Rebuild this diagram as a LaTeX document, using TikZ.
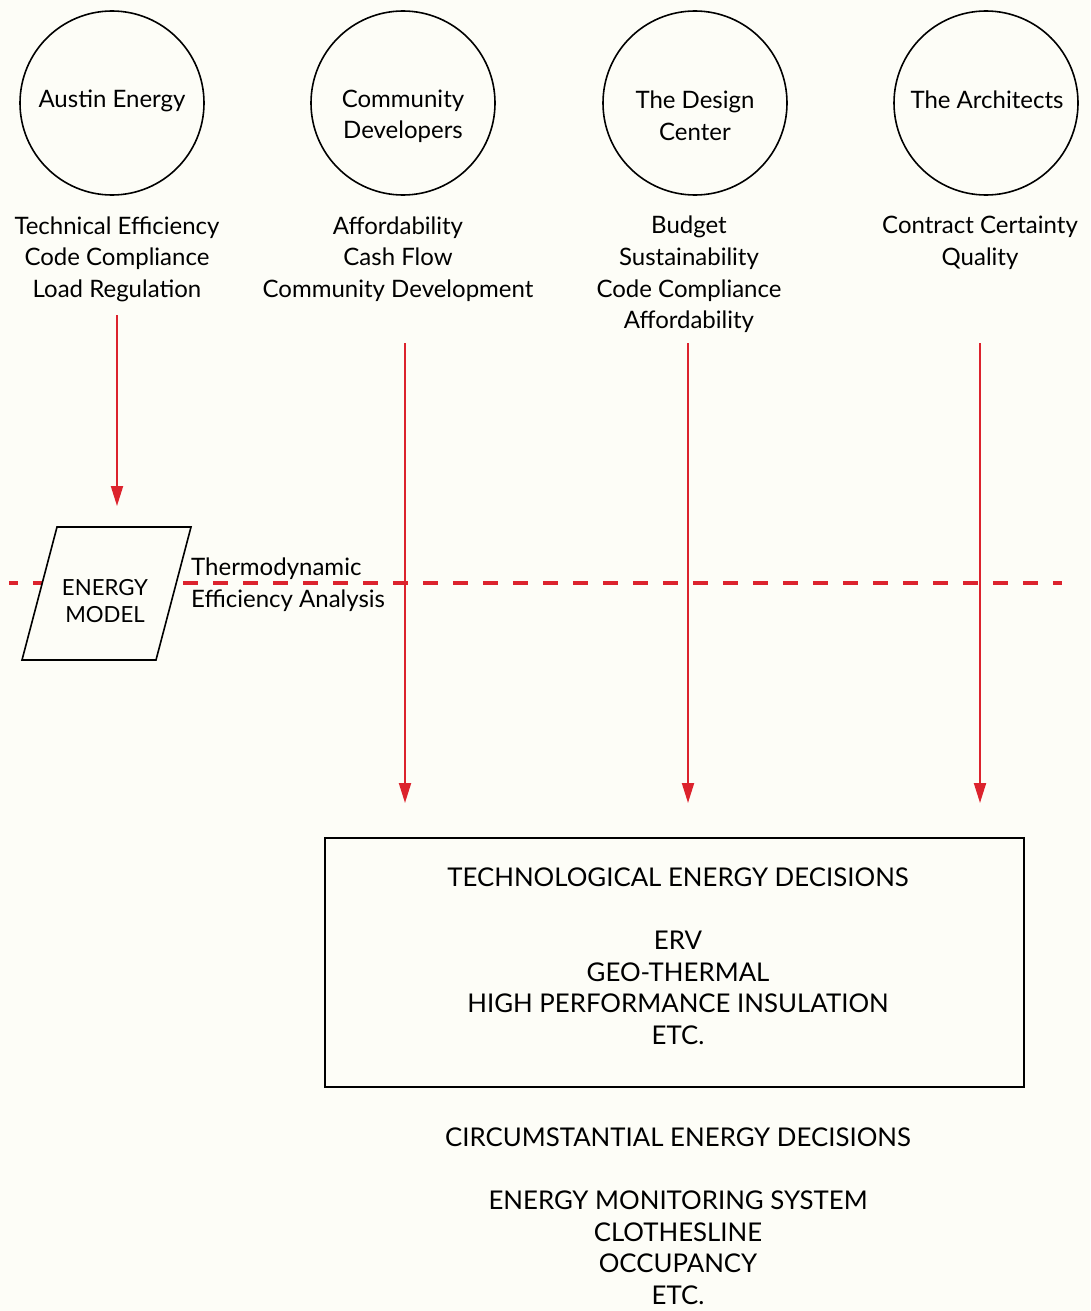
\documentclass[tikz,border=0pt]{standalone}
\usepackage{fontspec}
\setmainfont{Lato}
\usetikzlibrary{arrows.meta}
\definecolor{bg}{RGB}{253,253,247}
\definecolor{arrred}{RGB}{220,35,45}
\tikzset{
  actor/.style={circle,draw=black,line width=1.6pt,minimum size=184pt,inner sep=0pt},
  lbl/.style={inner sep=0pt,align=center,font=\fontsize{24}{31.6}\selectfont},
  capslbl/.style={inner sep=0pt,align=center,font=\fontsize{25.8}{31.7}\selectfont},
  smalllbl/.style={inner sep=0pt,align=center,font=\fontsize{22.2}{27}\selectfont},
  redarrow/.style={draw=arrred,line width=2pt,-{Triangle[width=12pt,length=20pt]}},
  reddash/.style={draw=arrred,line width=3.5pt,dash pattern=on 15pt off 15pt,dash phase=6pt},
  boxframe/.style={draw=black,line width=1.6pt,fill=bg,minimum width=699pt,minimum height=249pt,inner sep=0pt},
}
\begin{document}
\begin{tikzpicture}[x=1pt,y=-1pt]
\fill[bg] (0,0) rectangle (1090,1311);
\useasboundingbox (0,0) rectangle (1090,1311);

% actors
\node[actor] (ae) at (112,103) {};
\node[actor] (cd) at (403,103) {};
\node[actor] (dc) at (695,103) {};
\node[actor] (ar) at (986,103) {};
\node[lbl] (aet) at (112,101) {Austin Energy};
\node[lbl] (cdt) at (403,116.5) {Community\\Developers};
\node[lbl] (dct) at (695,115.5) {The Design\\Center};
\node[lbl] (art) at (987,100) {The Architects};

% concerns
\node[lbl] (b1) at (117,259) {Technical Efficiency\\Code Compliance\\Load Regulation};
\node[lbl] (b2) at (398,259) {Affordability\\Cash Flow\\Community Development};
\node[lbl] (b3) at (689,274.5) {Budget\\Sustainability\\Code Compliance\\Affordability};
\node[lbl] (b4) at (980,243) {Contract Certainty\\Quality};

% dashed line
\coordinate (dl) at (9,583);
\coordinate (dr) at (1062,583);
\draw[reddash] (dl) -- (dr);

% energy model
\draw[draw=black,line width=1.6pt,fill=bg] (57,527) -- (191,527) -- (156,660) -- (22,660) -- cycle;
\node[smalllbl] (em) at (105,601) {ENERGY\\MODEL};
\node[lbl,align=left,anchor=west] (tea) at (191,584.5) {Thermodynamic\\Efficiency Analysis};

% arrows
\coordinate (s1) at (117,315); \coordinate (e1) at (117,506);
\coordinate (s2) at (405,343); \coordinate (e2) at (405,803);
\coordinate (s3) at (688,343); \coordinate (e3) at (688,803);
\coordinate (s4) at (980,343); \coordinate (e4) at (980,803);
\draw[redarrow] (s1) -- (e1);
\draw[redarrow] (s2) -- (e2);
\draw[redarrow] (s3) -- (e3);
\draw[redarrow] (s4) -- (e4);

% decisions box
\node[boxframe] (tech) at (674.5,962.5) {};
\node[capslbl] (techt) at (678,956) {TECHNOLOGICAL ENERGY DECISIONS\\[31.7pt]ERV\\GEO-THERMAL\\HIGH PERFORMANCE INSULATION\\ETC.};
\node[capslbl] (circ) at (678,1216) {CIRCUMSTANTIAL ENERGY DECISIONS\\[31.7pt]ENERGY MONITORING SYSTEM\\CLOTHESLINE\\OCCUPANCY\\ETC.};
\end{tikzpicture}
\end{document}
